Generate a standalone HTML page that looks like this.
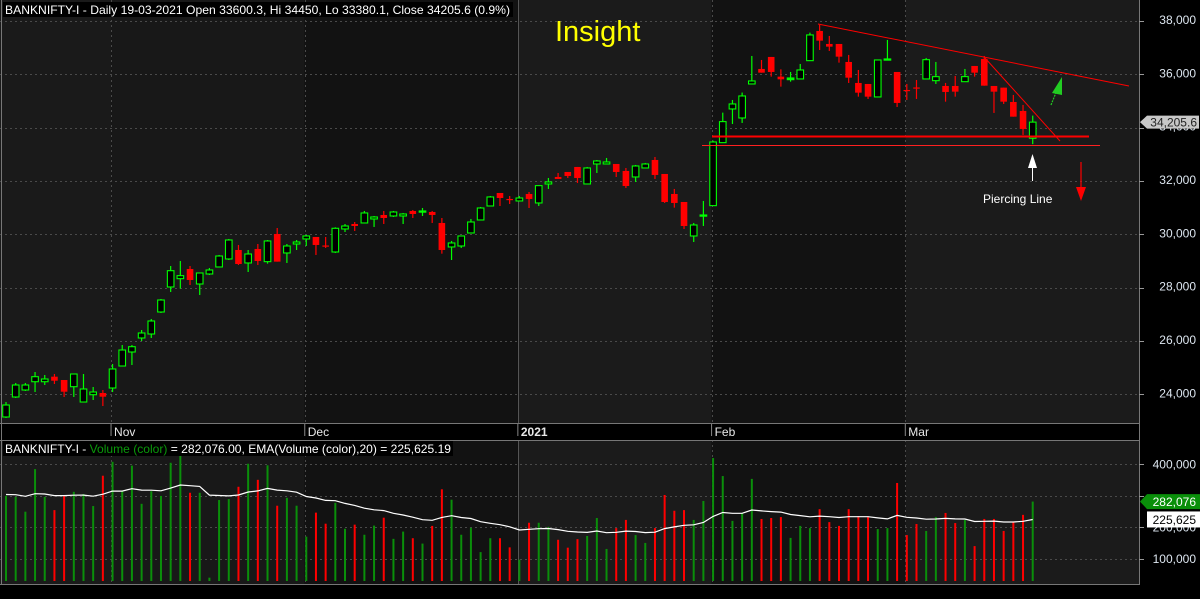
<!DOCTYPE html>
<html><head><meta charset="utf-8"><style>
html,body{margin:0;padding:0;background:#000;}
svg{display:block;font-family:"Liberation Sans",sans-serif;}
</style></head><body>
<svg id="chart" width="1200" height="599" viewBox="0 0 1200 599" xmlns="http://www.w3.org/2000/svg">
<rect x="0" y="0" width="1200" height="599" fill="#000"/>
<g id="bands"></g>
<g id="grid"></g>
<g id="vol"></g>
<g id="candles"></g>
<g id="ann">
  <line x1="818" y1="24" x2="1129" y2="86" stroke="#ff0000" stroke-width="1"/>
  <line x1="985" y1="58" x2="1060" y2="141" stroke="#ff0000" stroke-width="1"/>
  <line x1="712" y1="136.5" x2="1089" y2="136.5" stroke="#ff0000" stroke-width="2"/>
  <line x1="702" y1="145.5" x2="1100" y2="145.5" stroke="#ff2020" stroke-width="1"/>
  <line x1="1032.5" y1="166" x2="1032.5" y2="181" stroke="#fff" stroke-width="1"/>
  <polygon points="1032.5,154 1028,168 1037,168" fill="#fff"/>
  <text x="983" y="203" font-size="12" fill="#fff">Piercing Line</text>
  <line x1="1081" y1="162" x2="1081" y2="190" stroke="#ff0000" stroke-width="1.2"/>
  <polygon points="1081,201 1076,187 1086,187" fill="#ff0000"/>
  <line x1="1051" y1="105" x2="1057" y2="90" stroke="#22cc22" stroke-width="1.2" stroke-dasharray="2,1"/>
  <polygon points="1062,77 1052,93 1062,95" fill="#22cc22"/>
  <text x="555" y="41" font-size="29" fill="#ffff00">Insight</text>
</g>
<g id="frame"></g>
<g id="labels"></g>
</svg>
<script>
const opens=[23149,23899,24161,24472,24472,24661,24536,24285,23711,23985,24049,24236,25061,25586,26111,26261,27086,28024,28336,28699,28136,28511,28774,29074,29411,28924,29449,28974,30011,29299,29636,29824,29899,29580,29336,30199,30386,30424,30574,30724,30686,30686,30874,30855,30836,30424,29524,29561,30049,30536,31061,31549,31324,31249,31511,31174,31886,32149,32336,32524,31886,32636,32636,32636,32374,32149,32486,32786,32261,31511,31211,29936,30686,31074,33436,34699,34361,35636,36199,36649,35911,35797,35824,36510,37624,37136,37136,36461,35674,35636,35149,36555,36086,35411,35505,35824,35760,35561,35561,35722,36311,36574,35561,35498,34961,34624,33600.3];
const highs=[23711,24424,24424,24836,24724,24761,24536,24761,24761,24274,24161,25136,25849,25849,26411,26824,27574,28811,28999,28811,28549,28736,29224,29824,29599,29411,29636,29786,30236,29636,29786,29974,29899,29899,30261,30386,30461,30874,30686,30874,30874,30799,30911,30986,30874,30611,29749,29936,30574,31024,31436,31549,31436,31436,31586,31824,32111,32299,32336,32524,32524,32786,32861,32636,32486,32599,32674,32899,32261,31699,31211,30424,31249,33511,34561,35036,35314,36686,36536,36649,36185,36086,36386,37560,37849,37436,37136,36724,36161,35636,36536,37286,36086,35636,35786,36611,36461,35674,35936,36199,36311,36686,35561,35498,35224,34849,34450];
const lows=[23111,23861,24124,24086,24349,24386,23899,23899,23711,23786,23561,24086,25061,25099,25999,26111,27049,27836,27961,28099,27724,28474,28774,29036,28849,28586,28849,28899,28974,28924,29411,29561,29224,29486,29299,30086,30124,30424,30274,30386,30649,30386,30611,30686,30424,29273,29036,29486,30049,30536,31061,31061,31136,31249,30986,31061,31699,32074,32111,31924,31886,32299,32636,32149,31736,31961,32486,32074,31174,30999,30199,29711,30311,31074,33436,34136,34174,35636,36060,35911,35536,35722,35824,36510,36911,36874,36435,35674,35160,35074,35149,36555,34774,35036,35074,35824,35636,34972,35160,35722,35910,35572,34549,34886,34410,33724,33380.1];
const closes=[23599,24349,24349,24660,24574,24510,24097,24761,24199,24086,23910,24949,25661,25785,26299,26749,27536,28635,28449,28286,28549,28661,29186,29786,28886,29261,28999,29749,28974,29561,29711,29936,29599,29543,30224,30311,30311,30799,30649,30611,30836,30761,30761,30874,30724,29411,29674,29936,30461,30986,31399,31361,31305,31361,31324,31824,31961,32074,32186,32111,32486,32749,32711,32336,31811,32561,32636,32224,31211,31174,30311,30349,30724,33461,34224,34886,35186,35749,36060,36086,35810,35861,36161,37474,37260,37035,36660,35872,35310,35160,36536,36574,34924,35374,35486,36547,35910,35336,35347,35911,36060,35572,35347,34972,34410,33949,34205.6];
const volumes=[300,297,250,385,297,255,300,313,306,268,364,408,315,396,275,315,300,405,430,310,310,41,287,290,329,402,351,397,269,294,269,171,247,212,278,196,209,177,206,231,164,187,166,149,205,321,288,177,199,122,166,166,137,98,215,215,202,161,136,163,173,230,132,198,224,176,151,198,303,253,255,224,284,420,363,221,246,354,227,230,233,167,205,198,258,217,205,258,236,233,195,198,341,176,211,189,233,246,214,224,141,227,227,189,217,240,282.076];
const monthStarts=[11,31,53,73,93];
const monthLabels=["Nov","Dec","2021","Feb","Mar"];
const priceTicks=[24000,26000,28000,30000,32000,34000,36000,38000];
const volTicks=[100000,200000,400000];

const NS="http://www.w3.org/2000/svg";
function mk(tag,attrs,parent){const e=document.createElementNS(NS,tag);for(const k in attrs)e.setAttribute(k,attrs[k]);parent.appendChild(e);return e;}
const X=i=>6+i*9.686;
const YP=p=>394.3-(p-24000)*0.02667;
const YV=v=>590.6-v/1000*0.3156;
const PW=1139, MT=0, MB=424, VT=440, VB=585;

const bands=document.getElementById('bands');
const bandCols=["#1a1a1a","#181818","#121212","#1b1b1b","#121212","#1b1b1b"];
const edges=[0].concat(monthStarts.map(i=>X(i)-1.5)).concat([PW]);
for(let b=0;b<edges.length-1;b++){
  const r1=mk('rect',{x:edges[b],y:MT,width:edges[b+1]-edges[b],height:MB-MT,fill:bandCols[b]},bands);
  
  
  const r2=mk('rect',{x:edges[b],y:VT,width:edges[b+1]-edges[b],height:VB-VT,fill:bandCols[b]},bands);
  
  
}
const grid=document.getElementById('grid');
priceTicks.forEach(p=>{const y=Math.round(YP(p))+0.5;
  const l=mk('line',{x1:0,x2:PW,y1:y,y2:y,stroke:'#4a4a4a','stroke-dasharray':'2,3'},grid);
  
  });
[100000,200000,300000,400000].forEach(v=>{const y=Math.round(YV(v))+0.5;
  const l=mk('line',{x1:0,x2:PW,y1:y,y2:y,stroke:'#4a4a4a','stroke-dasharray':'2,3'},grid);
  
  
  const t=mk('line',{x1:PW,x2:PW+5,y1:y,y2:y,stroke:'#888'},grid);
  
  });
monthStarts.forEach((i,k)=>{const x=Math.round(X(i)-1.5)+0.5;const solid=monthLabels[k]==="2021";
  [[MT,MB],[VT,VB]].forEach(([a,b])=>{
    const l=mk('line',{x1:x,x2:x,y1:a,y2:b,stroke:solid?'#555':'#4a4a4a'},grid);
    if(!solid)l.setAttribute('stroke-dasharray','2,3');
    
    });
});
const vol=document.getElementById('vol');
volumes.forEach((v,i)=>{const up=closes[i]>=opens[i];const y=YV(v*1000);
  const r=mk('rect',{x:X(i)-1,y:y,width:2,height:Math.max(0,581-y),fill:up?'#0a8f0a':'#ff0000'},vol);
  
  });
let ema=305000;const a=2/21;const pts=[];
volumes.forEach((v,i)=>{ema=ema+a*(v*1000-ema);pts.push(X(i).toFixed(1)+','+YV(ema).toFixed(1));});
const emaLine=mk('polyline',{points:pts.join(' '),fill:'none',stroke:'#fff','stroke-width':1.2},vol);


const cg=document.getElementById('candles');
opens.forEach((o,i)=>{const c=closes[i];const up=c>=o;const col=up?'#00ff00':'#ff0000';const x=X(i);
  const top=YP(Math.max(o,c)),bot=YP(Math.min(o,c));
  const w=mk('line',{x1:x,x2:x,y1:YP(highs[i]),y2:YP(lows[i]),stroke:col,'stroke-width':1.2},cg);
  
  
  const h=Math.max(bot-top,1.2);
  const b=mk('rect',{x:x-3.3,y:top,width:6.6,height:h,fill:up?'#000':col,stroke:col,'stroke-width':up?1.1:0},cg);
  if(up&&h<2){b.setAttribute('fill',col);}
  
  });
const fr=document.getElementById('frame');
const f1=mk('rect',{x:PW,y:0,width:1200-PW,height:599,fill:'#000'},fr);


const f2=mk('rect',{x:0,y:MB,width:PW,height:VT-MB,fill:'#000'},fr);


const f3=mk('rect',{x:0,y:VB,width:PW,height:599-VB,fill:'#000'},fr);


[[PW+0.5,0,PW+0.5,VB],[1.5,0,1.5,VB],[0,MB-0.5,PW,MB-0.5],[0,VT+0.5,PW,VT+0.5],[0,VB-0.5,PW,VB-0.5]].forEach(([x1,y1,x2,y2])=>{
  const l=mk('line',{x1,y1,x2,y2,stroke:'#777'},fr);
  
  });
priceTicks.forEach(p=>{const y=Math.round(YP(p))+0.5;
  const t=mk('line',{x1:PW,x2:PW+5,y1:y,y2:y,stroke:'#999'},fr);
  
  });
[100000,200000,300000,400000].forEach(v=>{const y=Math.round(YV(v))+0.5;
  const t=mk('line',{x1:PW,x2:PW+5,y1:y,y2:y,stroke:'#999'},fr);
  
  });
const lg=document.getElementById('labels');
priceTicks.forEach(p=>{
  const t=mk('text',{x:1196,y:YP(p)+3,'text-anchor':'end','font-size':12,fill:'#dde6f0'},lg);
  t.textContent=p.toLocaleString('en-US');
  
  });
volTicks.forEach(v=>{
  const t=mk('text',{x:1196,y:YV(v)+4,'text-anchor':'end','font-size':12,fill:'#dde6f0'},lg);
  t.textContent=v.toLocaleString('en-US');
  
  });
monthStarts.forEach((i,k)=>{const x=X(i)-1.5;
  const tk=mk('line',{x1:x,x2:x,y1:MB,y2:MB+12,stroke:'#888'},lg);
  
  
  const t=mk('text',{x:x+3,y:436,'font-size':12,fill:'#e8e8e8'},lg);
  if(monthLabels[k]==="2021")t.setAttribute('font-weight','bold');
  t.textContent=monthLabels[k];
  
  });
const lastC=closes[closes.length-1];const ly=YP(lastC);
const pb=mk('polygon',{points:`${PW+1},${ly} ${PW+8},${ly-6.5} 1199,${ly-6.5} 1199,${ly+6.5} ${PW+8},${ly+6.5}`,fill:'#c8c8c8'},lg);


const pt=mk('text',{x:1197,y:ly+4.5,'text-anchor':'end','font-size':12,fill:'#222'},lg);
pt.textContent=lastC.toLocaleString('en-US',{minimumFractionDigits:1});


const lv=volumes[volumes.length-1]*1000;const vy=YV(lv);
const vb=mk('polygon',{points:`${PW+1},${vy} ${PW+8},${vy-7.5} 1200,${vy-7.5} 1200,${vy+7.5} ${PW+8},${vy+7.5}`,fill:'#0a8f0a'},lg);


const vt=mk('text',{x:1196,y:vy+4.5,'text-anchor':'end','font-size':12,fill:'#fff'},lg);
vt.textContent=Math.round(lv).toLocaleString('en-US');


const ey=YV(ema);
const eb=mk('rect',{x:1147,y:ey-8,width:53,height:16,fill:'#fff'},lg);


const et=mk('text',{x:1196,y:ey+4.5,'text-anchor':'end','font-size':12,fill:'#000'},lg);
et.textContent="225,625";


const hb=mk('rect',{x:3,y:2,width:510,height:15,fill:'#000'},lg);


const ht=mk('text',{x:5,y:14,'font-size':12,fill:'#fff',textLength:505,lengthAdjust:'spacingAndGlyphs'},lg);
ht.textContent="BANKNIFTY-I - Daily 19-03-2021 Open 33600.3, Hi 34450, Lo 33380.1, Close 34205.6 (0.9%)";


const vhb=mk('rect',{x:3,y:441,width:450,height:15,fill:'#000'},lg);


const vht=mk('text',{x:5,y:453,'font-size':12,fill:'#fff',textLength:446,lengthAdjust:'spacingAndGlyphs'},lg);


const s1=mk('tspan',{},vht);s1.textContent="BANKNIFTY-I - ";
const s2=mk('tspan',{fill:'#0a9a0a'},vht);s2.textContent="Volume (color)";
const s3=mk('tspan',{},vht);s3.textContent=" = 282,076.00, EMA(Volume (color),20) = 225,625.19";
</script>
</body></html>
